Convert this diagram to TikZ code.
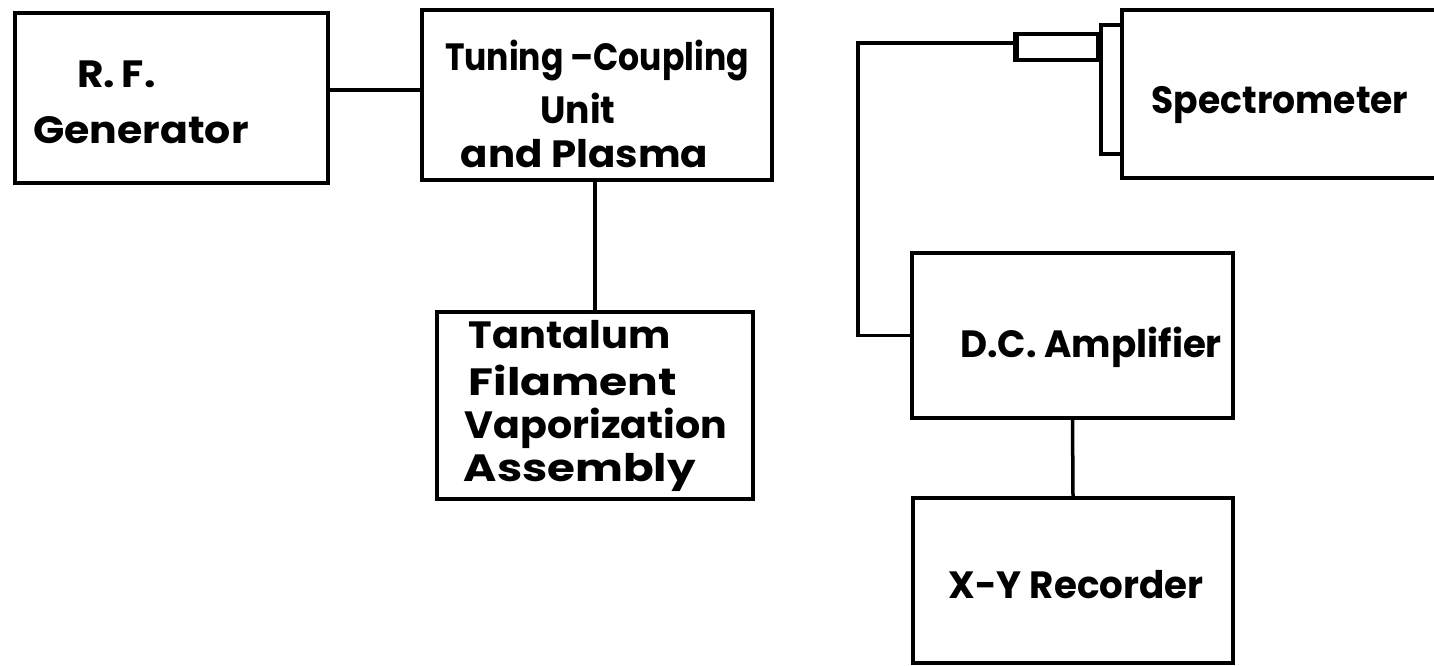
\documentclass[tikz,border=0pt]{standalone}
\usepackage{fontspec}
\usepackage{graphicx}
\setmainfont{Poppins}
\newcommand{\hsc}[2]{\scalebox{#1}[1]{#2}}
\begin{document}
\begin{tikzpicture}[x=1pt,y=-1pt,line width=3.5pt,
  box/.style={draw,rectangle,inner sep=0pt},
  lbl/.style={font=\fontsize{38}{38}\selectfont\bfseries,inner sep=0pt}]
\clip (0,0) rectangle (1434,665);
% boxes
\node[box,minimum width=313pt,minimum height=170pt] (rf) at (171.5,98) {};
\node[box,minimum width=350pt,minimum height=170pt] (tun) at (597,95) {};
\node[box,minimum width=316pt,minimum height=187pt] (tan) at (595,405.5) {};
\node[box,minimum width=318pt,minimum height=168pt] (spec) at (1281,94) {};
\node[box,minimum width=21pt,minimum height=129pt] (flange) at (1111.5,89.5) {};
\node[box,minimum width=81pt,minimum height=26pt] (tube) at (1057.5,47) {};
\node[box,minimum width=321pt,minimum height=165pt] (dc) at (1072.5,335.5) {};
\node[box,minimum width=320pt,minimum height=165pt] (xy) at (1073,580.5) {};
% labels
\node[lbl,anchor=base] (t1) at (116.5,87) {\hsc{1.07}{R.\,F.}};
\node[lbl,anchor=base] (t2) at (141,143) {\hsc{1.08}{Generator}};
\node[lbl,anchor=base] (t3) at (597,70) {\hsc{0.87}{Tuning –Coupling}};
\node[lbl,anchor=base] (t4) at (578,123) {\hsc{0.95}{Unit}};
\node[lbl,anchor=base] (t5) at (584.5,167) {\hsc{1.06}{and Plasma}};
\node[lbl,anchor=base west] (t6) at (467,348) {\hsc{1.05}{Tantalum}};
\node[lbl,anchor=base west] (t7) at (467,395) {\hsc{1.2}{Filament}};
\node[lbl,anchor=base west] (t8) at (463,438) {\hsc{1.04}{Vaporization}};
\node[lbl,anchor=base west] (t9) at (462,481) {\hsc{1.19}{Assembly}};
\node[lbl,anchor=base] (t10) at (1280,113) {\hsc{0.95}{Spectrometer}};
\node[lbl,anchor=base] (t11) at (1091,357) {\hsc{0.98}{D.C. Amplifier}};
\node[lbl,anchor=base] (t12) at (1076,598) {\hsc{0.98}{X-Y Recorder}};
% connectors
\coordinate (c1) at (0,90);
\draw (rf.east |- c1) -- (tun.west |- c1);
\draw (tan.north) -- (tan.north |- tun.south);
\draw (dc.south) -- (xy.north);
\coordinate (w) at (858,43);
\draw (tube.west |- w) -- (w) |- (dc.west);
\draw[line width=5pt] (tube.north west) -- (tube.south west);
\end{tikzpicture}
\end{document}
